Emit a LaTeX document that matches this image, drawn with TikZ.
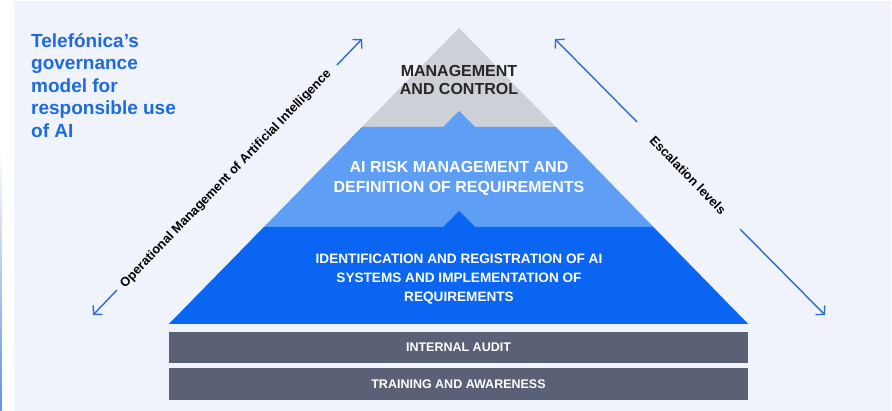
\documentclass[tikz,border=0pt]{standalone}
\usepackage{fontspec}
\setmainfont{Liberation Sans}
\usetikzlibrary{arrows.meta}
\definecolor{panelbg}{HTML}{F0F3FC}
\definecolor{topgrey}{HTML}{CDD0D7}
\definecolor{midblue}{HTML}{5E9EF5}
\definecolor{lowblue}{HTML}{0A66F2}
\definecolor{barslate}{HTML}{5A6176}
\definecolor{titleblue}{HTML}{1C6BDF}
\definecolor{arrowblue}{HTML}{2E6DCE}
\begin{document}
\begin{tikzpicture}[x=1pt, y=-1pt,
  lvl/.style={font=\bfseries\fontsize{16}{20}\selectfont, align=center, text=white, inner sep=0pt},
  bar/.style={fill=barslate, text=white, font=\bfseries\fontsize{12.5}{14}\selectfont,
    minimum width=579pt, inner sep=0pt},
  axis/.style={font=\bfseries\fontsize{12.8}{14}\selectfont, inner sep=0pt},
  arr/.style={draw=arrowblue, line width=1.4pt, -{Straight Barb[length=6pt, width=13pt]}}]
\useasboundingbox (0,0) rectangle (892,411);
\fill[white] (0,0) rectangle (892,411);
\fill[panelbg] (14,1) rectangle (891,411);
\shade[top color=white, bottom color=arrowblue!75] (0,150) rectangle (1.6,411);

% pyramid
\fill[topgrey] (459,28) -- (748,324) -- (169,324) -- cycle;
\fill[midblue] (362,127) -- (443,127) -- (459,111) -- (475,127) -- (556,127)
  -- (748,324) -- (169,324) -- cycle;
\fill[lowblue] (264,227) -- (443,227) -- (459,211) -- (475,227) -- (653,227)
  -- (748,324) -- (169,324) -- cycle;

\node[lvl, text=black!85, font=\bfseries\fontsize{16}{18.5}\selectfont] (lvl0) at (459,80) {MANAGEMENT\\AND CONTROL};
\node[lvl] (lvl1) at (459,178) {AI RISK MANAGEMENT AND\\DEFINITION OF REQUIREMENTS};
\node[lvl, font=\bfseries\fontsize{13.6}{19}\selectfont] (lvl2) at (459,279) {IDENTIFICATION AND REGISTRATION OF AI\\SYSTEMS AND IMPLEMENTATION OF\\REQUIREMENTS};

\node[bar, minimum height=31pt] (bar0) at (458.5,347.5) {INTERNAL AUDIT};
\node[bar, minimum height=32pt] (bar1) at (458.5,384) {TRAINING AND AWARENESS};

% title
\node[anchor=north west, inner sep=0pt, align=left, text=titleblue,
  font=\bfseries\fontsize{19}{22.5}\selectfont] (title) at (31,33)
  {Telefónica’s\\governance\\model for\\responsible use\\of AI};

% side axes
\node[axis, rotate=46] (opm) at (226,179) {Operational Management of Artificial Intelligence};
\coordinate (opm0) at (117,290);
\coordinate (opm1) at (93,315);
\coordinate (opm2) at (337,65);
\coordinate (opm3) at (362,39);
\draw[arr] (opm0) -- (opm1);
\draw[arr] (opm2) -- (opm3);

\node[axis, rotate=-46] (esc) at (688,175) {Escalation levels};
\coordinate (esc0) at (637,122);
\coordinate (esc1) at (555,39);
\coordinate (esc2) at (740,229);
\coordinate (esc3) at (825,315);
\draw[arr] (esc0) -- (esc1);
\draw[arr] (esc2) -- (esc3);

\end{tikzpicture}
\end{document}
